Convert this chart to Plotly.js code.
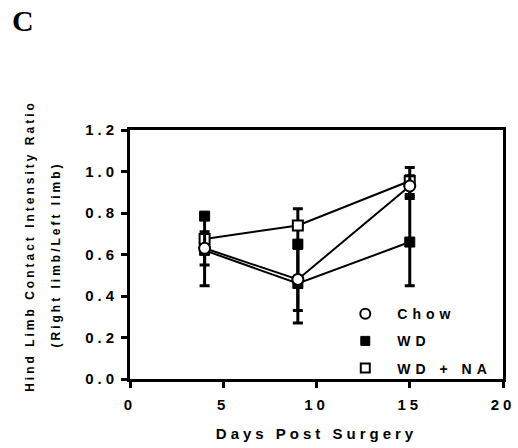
<!DOCTYPE html>
<html>
<head>
<meta charset="utf-8">
<script src="https://cdn.plot.ly/plotly-3.0.1.min.js"></script>
<style>
  html, body { margin: 0; padding: 0; background: #fff; }
  #chart { width: 518px; height: 448px; }
  .xtitle, .xtick text, .ytick text { letter-spacing: 4px; }
  .legendtext { letter-spacing: 5px; }
  .annotation-text { letter-spacing: 3px !important; }
</style>
</head>
<body>
<div id="chart"></div>
<script>
// ---- data ----
const days = [4, 9, 15];
const chow = [0.63, 0.48, 0.93];
const chowErr = [0.08, 0.15, 0.05];
const wd = [0.62, 0.46, 0.66];
const wdErr = [0.17, 0.19, 0.21];
const wdna = [0.675, 0.74, 0.954];
const wdnaErr = [0.02, 0.08, 0.065];
// filled squares drawn at the upper WD error ends in the original figure
const wdMarkDays = [4, 9];
const wdMarkVals = [0.785, 0.65];
const xTicks = [0, 5, 10, 15, 20];
const yTicks = [0.0, 0.2, 0.4, 0.6, 0.8, 1.0, 1.2];
const yTickText = ['0.0', '0.2', '0.4', '0.6', '0.8', '1.0', '1.2'];

const errStyle = (arr) => ({type: 'data', array: arr, visible: true, color: '#000', thickness: 3, width: 5});

const traces = [
  {x: days, y: wd, error_y: errStyle(wdErr), mode: 'lines+markers', showlegend: false,
   line: {color: '#000', width: 2}, marker: {symbol: 'square', size: 10, color: '#000', line: {color: '#000', width: 1}}},
  {x: wdMarkDays, y: wdMarkVals, mode: 'markers', showlegend: false,
   marker: {symbol: 'square', size: 10, color: '#000', line: {color: '#000', width: 1}}},
  {x: days, y: wdna, error_y: errStyle(wdnaErr), mode: 'lines+markers', showlegend: false,
   line: {color: '#000', width: 2}, marker: {symbol: 'square', size: 10, color: '#fff', line: {color: '#000', width: 2}}},
  {x: days, y: chow, error_y: errStyle(chowErr), mode: 'lines+markers', showlegend: false,
   line: {color: '#000', width: 2}, marker: {symbol: 'circle', size: 11, color: '#fff', line: {color: '#000', width: 2}}},
  // legend entries
  {x: [null], y: [null], mode: 'markers', name: 'Chow', legendgroup: 'a',
   marker: {symbol: 'circle', size: 10, color: '#fff', line: {color: '#000', width: 2}}},
  {x: [null], y: [null], mode: 'markers', name: 'WD', legendgroup: 'b',
   marker: {symbol: 'square', size: 9, color: '#000', line: {color: '#000', width: 1}}},
  {x: [null], y: [null], mode: 'markers', name: 'WD + NA', legendgroup: 'c',
   marker: {symbol: 'square', size: 9, color: '#fff', line: {color: '#000', width: 2}}}
];

const tickFont = {family: 'Liberation Sans, Arial, sans-serif', size: 15, color: '#000', weight: 'bold'};
const titleFont = {family: 'Liberation Sans, Arial, sans-serif', size: 12, color: '#000', weight: 'bold'};

const layout = {
  width: 518, height: 448,
  margin: {l: 130, r: 15, t: 130, b: 69},
  paper_bgcolor: '#fff', plot_bgcolor: '#fff',
  showlegend: true,
  legend: {x: 0.545, xanchor: 'left', y: 0.325, yanchor: 'top', bgcolor: 'rgba(0,0,0,0)',
    font: {family: 'Liberation Sans, Arial, sans-serif', size: 14, color: '#000', weight: 'bold'},
    itemwidth: 54, tracegroupgap: 6, traceorder: 'grouped'},
  xaxis: {range: [0, 20], tickvals: xTicks, ticktext: xTicks.map(String),
    showgrid: false, zeroline: false, showline: true, linecolor: '#000', linewidth: 3, mirror: true,
    ticks: 'outside', ticklen: 6, tickwidth: 3, tickcolor: '#000', tickfont: tickFont, ticklabelstandoff: 4,
    title: {text: 'Days Post Surgery', font: {family: 'Liberation Sans, Arial, sans-serif', size: 15, color: '#000', weight: 'bold'}, standoff: 17}},
  yaxis: {range: [0, 1.2], tickvals: yTicks, ticktext: yTickText,
    showgrid: false, zeroline: false, showline: true, linecolor: '#000', linewidth: 3, mirror: true,
    ticks: 'outside', ticklen: 6, tickwidth: 3, tickcolor: '#000', tickfont: tickFont},
  annotations: [
    {text: 'C', xref: 'paper', yref: 'paper', x: -0.282, y: 1.44, xanchor: 'center', yanchor: 'middle',
     showarrow: false, font: {family: 'Liberation Serif, Times New Roman, serif', size: 30, color: '#000', weight: 'bold'}},
    {text: 'Hind Limb Contact Intensity Ratio', xref: 'paper', yref: 'paper', x: -0.268, y: 0.535,
     xanchor: 'center', yanchor: 'middle', textangle: -90, showarrow: false, font: titleFont},
    {text: '(Right limb/Left limb)', xref: 'paper', yref: 'paper', x: -0.201, y: 0.5,
     xanchor: 'center', yanchor: 'middle', textangle: -90, showarrow: false, font: titleFont}
  ]
};

Plotly.newPlot('chart', traces, layout, {displayModeBar: false, staticPlot: true});
</script>
</body>
</html>
